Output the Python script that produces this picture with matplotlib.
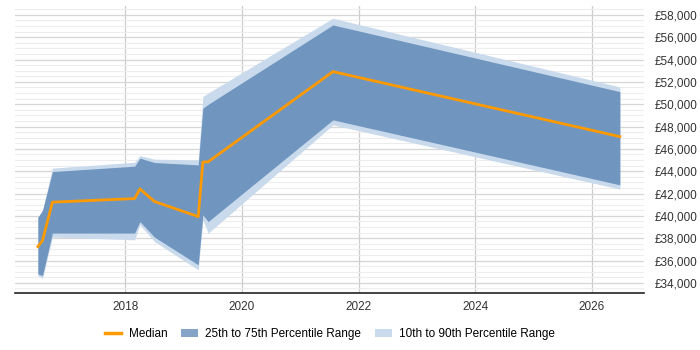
import matplotlib
matplotlib.use("Agg")
import matplotlib.pyplot as plt
from matplotlib.ticker import FuncFormatter, MultipleLocator
from matplotlib.patches import Patch
from matplotlib.lines import Line2D

plt.rcParams['font.family'] = ['Liberation Sans', 'DejaVu Sans']

years = [2016.50, 2016.58, 2016.75, 2018.16, 2018.25, 2018.50, 2019.25, 2019.33, 2019.42, 2021.56, 2026.48]
median = [37250, 37800, 41230, 41550, 42420, 41290, 39940, 44820, 44840, 52920, 47100]
p25 = [34810, 34660, 38460, 38460, 39490, 38100, 35620, 40090, 39490, 48600, 42780]
p75 = [39870, 40500, 43970, 44450, 45170, 44780, 44570, 49650, 49990, 57100, 51130]
p10 = [34630, 34430, 38100, 37860, 39200, 37700, 35170, 39650, 38450, 48150, 42400]
p90 = [39870, 40500, 44280, 44800, 45400, 45080, 45020, 50690, 51000, 57700, 51550]
xticks = [2018, 2020, 2022, 2024, 2026]

dark = '#7096c0'
light = '#c9daec'
orange = '#ff9900'

fig = plt.figure(figsize=(7, 3.5), dpi=100)
ax = fig.add_axes([0.022, 0.163, 0.898, 0.82])

ax.fill_between(years, p10, p90, color=light, linewidth=0, zorder=2)
ax.fill_between(years, p25, p75, color=dark, linewidth=0, zorder=3)
ax.plot(years, median, color=orange, linewidth=2, zorder=4)

ax.set_xlim(2016.115, 2026.894)
ax.set_ylim(33100, 58800)
ax.set_xticks(xticks)
ax.set_xticklabels([str(x) for x in xticks])
ax.yaxis.set_major_locator(MultipleLocator(2000))
ax.yaxis.set_minor_locator(MultipleLocator(500))
ax.yaxis.tick_right()
ax.yaxis.set_major_formatter(FuncFormatter(lambda v, p: f"£{int(v):,}"))
ax.grid(which='major', axis='y', color='#d6d6d6', linewidth=0.9, zorder=0)
ax.grid(which='minor', axis='y', color='#ededed', linewidth=0.8, zorder=0)
ax.grid(which='major', axis='x', color='#cccccc', linewidth=0.9, zorder=0)
ax.set_axisbelow(True)
for s in ['top', 'right', 'left']:
    ax.spines[s].set_visible(False)
ax.spines['bottom'].set_color('#222222')
ax.spines['bottom'].set_linewidth(1.2)
ax.tick_params(axis='y', which='both', length=0, labelsize=8.5, colors='#333333', pad=8)
ax.tick_params(axis='x', length=0, labelsize=8.5, colors='#333333', pad=6)

handles = [Line2D([0], [0], color=orange, linewidth=2.5),
           Patch(facecolor='#86a4c7', edgecolor='none'),
           Patch(facecolor=light, edgecolor='none')]
labels = ['Median', '25th to 75th Percentile Range', '10th to 90th Percentile Range']
fig.legend(handles, labels, loc='center', bbox_to_anchor=(0.471, 0.045), ncol=3,
           frameon=False, fontsize=8.5, handlelength=1.4, columnspacing=1.2, handletextpad=0.6)

fig.savefig('out.png', dpi=100)
